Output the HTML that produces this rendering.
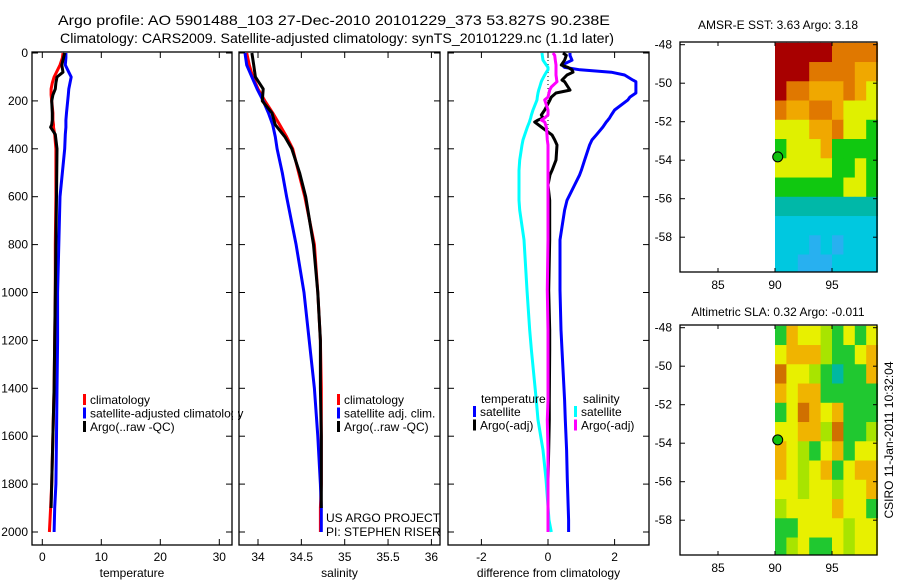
<!DOCTYPE html>
<html><head><meta charset="utf-8"><style>
body{margin:0;background:#fff;width:900px;height:580px;overflow:hidden}
svg{font-family:"Liberation Sans",sans-serif;font-size:12px}
</style></head><body>
<svg id="s" width="900" height="580">
<text x="58" y="25" font-size="14" textLength="552" lengthAdjust="spacingAndGlyphs">Argo profile: AO 5901488_103 27-Dec-2010 20101229_373 53.827S 90.238E</text>
<text x="60" y="43" font-size="14" textLength="554" lengthAdjust="spacingAndGlyphs">Climatology: CARS2009. Satellite-adjusted climatology: synTS_20101229.nc (1.1d later)</text>
<text x="778" y="29" text-anchor="middle">AMSR-E SST: 3.63 Argo: 3.18</text>
<text x="778" y="316" text-anchor="middle">Altimetric SLA: 0.32 Argo: -0.011</text>
<text transform="translate(893,440) rotate(-90)" text-anchor="middle">CSIRO 11-Jan-2011 10:32:04</text>
</svg>
<script>
const depthT=[0,20,50,80,100,125,150,175,200,250,280,300,310,340,400,600,800,1000,1200,1400,1600,1800,1900,2000];
const tempClim=[3.5,3.4,3.0,2.4,2.0,1.7,1.5,1.5,1.6,1.8,1.8,1.9,1.9,2.1,2.3,2.3,2.2,2.2,2.1,2.0,1.8,1.6,1.4,1.2];
const tempArgo=[3.8,3.6,3.3,3.5,2.5,2.3,2.2,1.8,1.6,1.7,1.7,1.6,1.4,2.2,2.5,2.4,2.3,2.2,2.1,2.0,1.8,1.6,1.5,null];
const tempSat=[4.0,4.0,3.9,4.5,4.9,4.7,4.5,4.4,4.3,4.1,4.0,4.0,4.0,3.9,3.8,3.0,2.8,2.6,2.6,2.5,2.4,2.3,2.1,2.0];
const depthS=[0,50,100,150,200,250,300,350,400,500,600,800,1000,1200,1400,1600,1800,1900,2000];
const salClim=[33.87,33.9,33.94,34.0,34.08,34.17,34.25,34.33,34.4,34.47,34.54,34.65,34.69,34.72,34.73,34.73,34.73,34.72,34.72];
const salArgo=[33.93,33.95,33.97,34.06,34.05,34.16,34.2,34.31,34.39,34.48,34.55,34.64,34.69,34.72,34.72,34.73,34.73,34.73,null];
const salSat=[33.85,33.87,33.93,33.99,34.06,34.12,34.17,34.2,34.22,34.28,34.33,34.44,34.53,34.59,34.65,34.69,34.72,34.73,34.73];
const depthD=[0,10,30,50,60,70,80,92,113,120,142,155,167,184,196,238,259,271,280,288,309,342,363,384,447,490,509,551,615,656,780,990,1157,1240,1450,1532,1658,1780,1950,2000];
const dSatT=[0.66,0.66,0.72,0.42,0.5,0.96,1.9,2.3,2.55,2.64,2.64,2.64,2.64,2.46,2.4,2.0,1.9,1.85,1.8,1.75,1.65,1.45,1.32,1.25,1.1,1.0,0.95,0.8,0.57,0.5,0.36,0.36,0.39,0.42,0.5,0.52,0.56,0.58,0.62,0.62];
const dArgoT=[0.45,0.55,0.5,0.4,0.6,0.72,0.75,0.57,0.42,0.5,0.6,0.66,0.24,0.1,0.06,-0.1,-0.2,-0.15,-0.3,-0.4,-0.2,0.12,0.2,0.27,0.24,0.12,0.06,0.0,0.05,0.05,0.05,0.02,0.05,0.05,0.04,0.04,0.02,0.0,0.0,0.0];
const dArgoS=[0.15,0.2,0.22,0.24,0.24,0.24,0.24,0.24,0.26,0.27,0.1,0.05,0.03,0.0,-0.1,0.0,0.0,-0.1,-0.2,-0.1,-0.05,-0.03,-0.02,0.0,0.0,0.0,0.0,0.0,0.0,0.0,0.0,-0.02,0.0,0.0,0.0,-0.02,0.0,0.0,0.0,0.0];
const dSatS=[-0.18,-0.17,-0.15,-0.05,0.0,0.0,-0.05,-0.1,-0.18,-0.2,-0.25,-0.28,-0.3,-0.32,-0.33,-0.45,-0.5,-0.52,-0.54,-0.56,-0.62,-0.7,-0.75,-0.78,-0.85,-0.87,-0.87,-0.87,-0.87,-0.85,-0.72,-0.63,-0.55,-0.5,-0.35,-0.3,-0.15,-0.06,0.03,0.1];
const depthTicks=[0,200,400,600,800,1000,1200,1400,1600,1800,2000];
const tTicks=[0,10,20,30];
const sTicks=[34,34.5,35,35.5,36];
const sTickLabels=["34","34.5","35","35.5","36"];
const dTicks=[-2,0,2];
const latTicks=[-48,-50,-52,-54,-56,-58];
const lonTicks=[85,90,95];
const sstRows=["RRRRROOOO","RRROOOOoo","ROOoooOoY","OooOOoYYY","YYYooOYYG","GYYYoGGGG","YYYYYGGYG","GGGGGGYYG","TTTTTTTTT","CCCCCCCCC","CCCBCBCCC","CCBBBCCCC"];
const slaRows=["goyylgygy","yooolggyo","dyylgTggo","oyooggggg","gydoyoggg","yyooldggl","oylgyogyy","oylyogyoo","yylyylyyo","lyyyyoyyg","ggyyyylyy","glyggylyy"];
const floatLon=90.238, floatLat=-53.827;

const NS="http://www.w3.org/2000/svg";const svg=document.getElementById('s');
function mk(t,a,p){const e=document.createElementNS(NS,t);for(const k in a)e.setAttribute(k,a[k]);(p||svg).appendChild(e);return e;}
const yD=d=>53+d*0.2395;
function line(x1,y1,x2,y2,p){return mk('line',{x1,y1,x2,y2,stroke:'#000','stroke-width':1},p);}
function txt(x,y,s,anchor,p){const t=mk('text',{x,y,'text-anchor':anchor||'start'},p);t.textContent=s;return t;}

function panel(name,x0,x1,xs,ticks,labels,xlabel){
  const g=mk('g',{});
  
  
  const r=mk('rect',{x:x0,y:52,width:x1-x0,height:493,fill:'none',stroke:'#000','stroke-width':1.3},g);
  
  
  depthTicks.forEach(d=>{line(x0,yD(d),x0+6,yD(d),g);line(x1-6,yD(d),x1,yD(d),g);});
  ticks.forEach((v,i)=>{const x=xs(v);line(x,52,x,58,g);line(x,539,x,545,g);
    const t=txt(x,561,labels[i],'middle',g);
    
    });
  const xl=txt((x0+x1)/2,577,xlabel,'middle',g);
  
  
  return g;
}
function series(name,depths,vals,xs,color,w,g){
  let d='';let pen=false;
  vals.forEach((v,i)=>{if(v===null){pen=false;return;}d+=(pen?'L':'M')+xs(v).toFixed(1)+','+yD(depths[i]).toFixed(1);pen=true;});
  const p=mk('path',{d,fill:'none',stroke:color,'stroke-width':w||3,'stroke-linejoin':'round'},g);
  
  
}
function legend(x,y,items,g){items.forEach((it,i)=>{const yy=y+i*13.5;
  const r=mk('rect',{x:x,y:yy-10,width:3,height:11,fill:it[1]},g);
  
  
  const t=txt(x+7,yy,it[0],'start',g);
  
  });}

depthTicks.forEach(d=>{const t=txt(28,yD(d)+4,String(d),'end');
  
  });

const xT=v=>42.3+5.9*v;
const g1=panel('temperature-panel',32,232,xT,tTicks,tTicks.map(String),'temperature');
series('temp-climatology-line',depthT,tempClim,xT,'#f00',3,g1);
series('temp-satellite-line',depthT,tempSat,xT,'#00f',3,g1);
series('temp-argo-line',depthT,tempArgo,xT,'#000',3,g1);
legend(83,404,[['climatology','#f00'],['satellite-adjusted climatology','#00f'],['Argo(..raw -QC)','#000']],g1);
mk('rect',{x:233,y:390,width:5,height:40,fill:'#fff'});

const xS=v=>258+86.7*(v-34);
const g2=panel('salinity-panel',239,440,xS,sTicks,sTickLabels,'salinity');
series('sal-climatology-line',depthS,salClim,xS,'#f00',3,g2);
series('sal-satellite-line',depthS,salSat,xS,'#00f',3,g2);
series('sal-argo-line',depthS,salArgo,xS,'#000',3,g2);
legend(337,404,[['climatology','#f00'],['satellite adj. clim.','#00f'],['Argo(..raw -QC)','#000']],g2);
let t=txt(326,522,'US ARGO PROJECT','start',g2);
t=txt(326,536,'PI: STEPHEN RISER','start',g2);

const xDf=v=>548+33.3*v;
const g3=panel('difference-panel',448,649,xDf,dTicks,dTicks.map(String),'difference from climatology');
mk('line',{x1:xDf(0),y1:52,x2:xDf(0),y2:yD(2000),stroke:'#000','stroke-width':1,'stroke-dasharray':'1,3'},g3);
series('diff-temp-satellite-line',depthD,dSatT,xDf,'#00f',3,g3);
series('diff-sal-satellite-line',depthD,dSatS,xDf,'#0ff',3,g3);
series('diff-temp-argo-line',depthD,dArgoT,xDf,'#000',3,g3);
series('diff-sal-argo-line',depthD,dArgoS,xDf,'#f0f',3,g3);
t=txt(481,403,'temperature','start',g3);
t=txt(583,403,'salinity','start',g3);
legend(473,416,[['satellite','#00f'],['Argo(-adj)','#000']],g3);
legend(574,416,[['satellite','#0ff'],['Argo(-adj)','#f0f']],g3);

const colsSST={R:'#a80000',O:'#e07800',o:'#f0a800',Y:'#e0f000',G:'#10c810',T:'#00b8a8',C:'#00c8e0',B:'#28b0f0'};
const colsSLA={g:'#20c830',y:'#e8f000',l:'#a8e400',o:'#f0b400',d:'#d07000',T:'#00b8a0'};
function map(name,top,rows,cols){
  const g=mk('g',{});
  
  
  const yL=lat=>top+2.7+(-48-lat)*19.25, xL=lon=>775+(lon-90)*11.4;
  const right=877,bottom=top+230;
  rows.forEach((row,i)=>{[...row].forEach((c,j)=>{
    const x=xL(90+j*(9/row.length)), y=Math.max(top,yL(-48+0.1-i)), y2=Math.min(bottom,yL(-48+0.1-i-1));
    const r=mk('rect',{x,y,width:(right-775)/row.length+0.5,height:y2-y+0.5,fill:cols[c]},g);
    
    });});
  const f=mk('rect',{x:680,y:top,width:right-680,height:230,fill:'none',stroke:'#000','stroke-width':1.3},g);
  
  
  latTicks.forEach(l=>{const y=yL(l);line(680,y,685,y,g);line(right-4,y,right,y,g);
    const tt=txt(672,y+4,String(l),'end',g);});
  lonTicks.forEach(l=>{const x=xL(l);line(x,top,x,top+4,g);line(x,bottom-4,x,bottom,g);
    const tt=txt(x,bottom+17,String(l),'middle',g);});
  const c=mk('circle',{cx:xL(floatLon),cy:yL(floatLat),r:5,fill:'#10c010',stroke:'#000','stroke-width':1},g);
  
  
}
map('sst-map',42,sstRows,colsSST);
map('sla-map',325,slaRows,colsSLA);
</script>
</body></html>
